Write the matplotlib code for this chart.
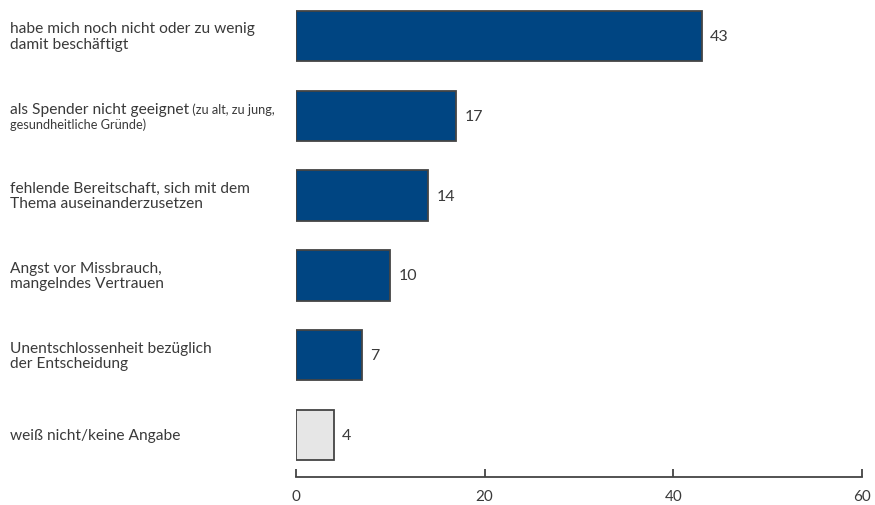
import matplotlib
matplotlib.use("Agg")
import matplotlib.pyplot as plt

plt.rcParams['font.family'] = ['Lato', 'DejaVu Sans']

labels_main = [
    "habe mich noch nicht oder zu wenig\ndamit beschäftigt",
    "als Spender nicht geeignet",
    "fehlende Bereitschaft, sich mit dem\nThema auseinanderzusetzen",
    "Angst vor Missbrauch,\nmangelndes Vertrauen",
    "Unentschlossenheit bezüglich\nder Entscheidung",
    "weiß nicht/keine Angabe",
]
values = [43, 17, 14, 10, 7, 4]
colors = ["#004582", "#004582", "#004582", "#004582", "#004582", "#e6e6e6"]
xticks = [0, 20, 40, 60]

TXT = "#3a3a3a"
fig = plt.figure(figsize=(8.75, 5.06), dpi=100)
ax = fig.add_axes([296/875, 1-478/506, (862-296)/875, 478/506])

ypos = list(range(len(values)))
ax.barh(ypos, values, height=0.63, color=colors, edgecolor="#444444", linewidth=1.3)
ax.set_ylim(5 + (478-436)/79.8, -37/79.8)
ax.set_xlim(0, 60)

for y, v in zip(ypos, values):
    ax.text(v + 0.9, y, str(v), va='center', ha='left', fontsize=11.5, color=TXT)

for s in ['top', 'right', 'left']:
    ax.spines[s].set_visible(False)
ax.spines['bottom'].set_color("#444444")
ax.spines['bottom'].set_linewidth(1.3)
ax.set_yticks([])
ax.set_xticks(xticks)
ax.set_xticklabels([str(t) for t in xticks])
ax.tick_params(axis='x', direction='in', length=6, width=1.3, color="#444444",
               labelcolor=TXT, labelsize=11, pad=9)

trans = matplotlib.transforms.blended_transform_factory(fig.transFigure, ax.transData)
for i, lab in enumerate(labels_main):
    if i == 1:
        t1 = ax.text(10/875, i - 0.09, lab, transform=trans, ha='left', va='center',
                     fontsize=11.2, color=TXT)
        ax.annotate(" (zu alt, zu jung,", xy=(1, 0.5), xycoords=t1, ha='left', va='center',
                    fontsize=9.2, color=TXT)
        ax.text(10/875, i + 0.1, "gesundheitliche Gründe)", transform=trans, ha='left',
                va='center', fontsize=9.2, color=TXT)
    else:
        ax.text(10/875, i, lab, transform=trans, ha='left', va='center',
                fontsize=11.2, color=TXT, linespacing=1.1)

fig.savefig("out.png", dpi=100)
